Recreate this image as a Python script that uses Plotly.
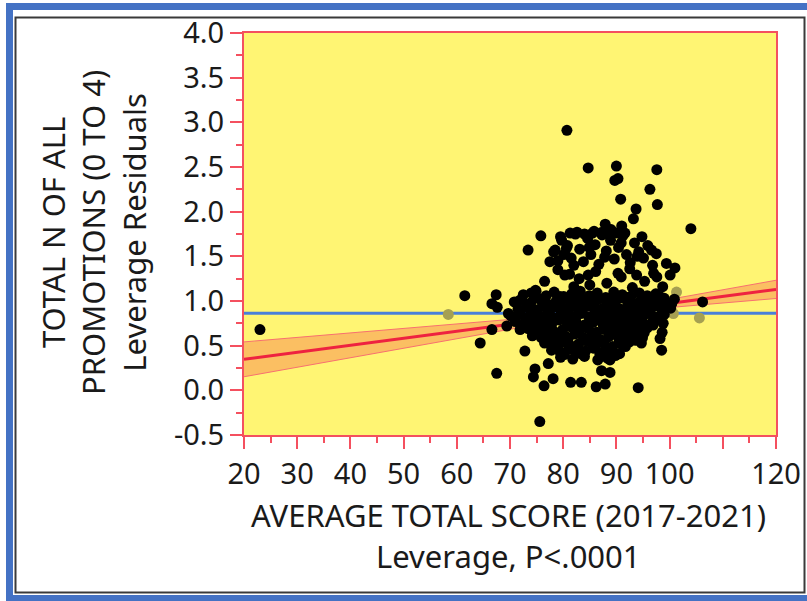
import plotly.graph_objects as go

# ---------------- data ----------------
x_tick_vals = [20, 30, 40, 50, 60, 70, 80, 90, 100, 110, 120]
x_tick_text = ["20", "30", "40", "50", "60", "70", "80", "90", "100", "", "120"]
x_minor_vals = [25, 35, 45, 55, 65, 75, 85, 95, 105, 115]
y_tick_vals = [-0.5, 0.0, 0.5, 1.0, 1.5, 2.0, 2.5, 3.0, 3.5, 4.0]
y_tick_text = ["-0.5", "0.0", "0.5", "1.0", "1.5", "2.0", "2.5", "3.0", "3.5", "4.0"]
y_minor_vals = [-0.25, 0.25, 0.75, 1.25, 1.75, 2.25, 2.75, 3.25, 3.75]

mean_x = [20, 120]
mean_y = [0.862, 0.862]

fit_x = [20, 120]
fit_y = [0.347, 1.130]

band_x = [20, 40, 60, 70, 80, 86, 92, 100, 110, 120]
band_upper = [0.542, 0.641, 0.739, 0.790, 0.844, 0.884, 0.938, 1.019, 1.126, 1.232]
band_lower = [0.152, 0.367, 0.581, 0.688, 0.790, 0.844, 0.884, 0.927, 0.978, 1.028]

sparse_pts = [
    (23.0, 0.68), (61.5, 1.06), (64.4, 0.53), (66.6, 0.97), (67.4, 1.07), (67.6, 0.93),
    (66.6, 0.68), (67.5, 0.19), (69.7, 0.86), (69.4, 0.72), (71.9, 0.68), (71.9, 1.01),
    (73.2, 0.96), (74.8, 1.12),
    (80.7, 2.91), (84.7, 2.49), (90.0, 2.51), (90.3, 2.37), (89.7, 2.35), (97.6, 2.47),
    (96.3, 2.25), (90.8, 2.14), (97.7, 2.08), (93.7, 2.03), (93.2, 1.92), (87.9, 1.86),
    (91.0, 1.84), (104.0, 1.81),
    (81.3, 1.76), (82.6, 1.77), (84.0, 1.75), (85.5, 1.76), (87.3, 1.77), (89.0, 1.75),
    (90.2, 1.76), (91.6, 1.76),
    (75.8, 1.73), (73.4, 1.57), (79.7, 1.68), (78.5, 1.57), (77.5, 1.44), (80.6, 1.59),
    (80.3, 1.29),
    (75.6, -0.35), (94.1, 0.03), (86.2, 0.04), (87.9, 0.07), (81.4, 0.09), (83.4, 0.09),
    (78.1, 0.13), (76.4, 0.05), (74.4, 0.15), (74.7, 0.24), (77.2, 0.30), (88.8, 0.34),
    (87.2, 0.22), (88.8, 0.20), (72.8, 0.44), (98.5, 0.45), (98.2, 0.58), (94.7, 0.53),
    (106.2, 0.99), (100.4, 0.97), (98.8, 0.75), (98.6, 0.65), (100.1, 1.29), (101.0, 1.37),
    (99.4, 1.42), (98.7, 1.16), (97.6, 1.27), (84.7, 1.29), (90.3, 1.31), (93.8, 1.29),
    (82.0, 1.16), (74.9, 1.11), (100.9, 1.02),
]

upper_pts = [
    (78.2, 1.55), (79.5, 1.72), (80.8, 1.62), (81.5, 1.48), (82.3, 1.75), (83.1, 1.58),
    (83.8, 1.44), (84.6, 1.70), (85.2, 1.52), (86.0, 1.63), (86.7, 1.41), (87.3, 1.74),
    (88.1, 1.56), (88.9, 1.68), (89.6, 1.47), (90.4, 1.60), (91.2, 1.73), (91.9, 1.52),
    (92.6, 1.43), (93.4, 1.65), (94.2, 1.55), (95.1, 1.48), (95.9, 1.62), (96.8, 1.40),
    (97.5, 1.53), (82.0, 1.40), (85.8, 1.78), (89.0, 1.80), (79.0, 1.45), (94.8, 1.72),
    (76.5, 1.22), (79.0, 1.35), (81.2, 1.30), (83.0, 1.25), (86.1, 1.33), (88.2, 1.20),
    (90.9, 1.27), (92.5, 1.36), (95.3, 1.22), (97.0, 1.31), (85.0, 1.18), (93.0, 1.15),
    (80.1, 1.52), (84.9, 1.60), (87.8, 1.49), (90.9, 1.65), (93.9, 1.50), (96.6, 1.57),
]

core_pts = [
    (72.5, 1.07), (74.0, 1.09), (76.8, 1.06), (78.3, 1.10), (80.1, 1.05), (81.6, 1.08),
    (83.2, 1.11), (84.9, 1.06), (86.4, 1.09), (88.0, 1.04), (89.5, 1.10), (91.1, 1.07),
    (92.7, 1.05), (94.3, 1.09), (95.8, 1.06), (97.4, 1.08), (99.0, 1.03),
    (75.0, 1.04), (79.4, 1.05), (82.5, 1.03), (85.7, 1.05), (88.8, 1.02), (92.0, 1.04),
    (95.0, 1.03), (98.2, 1.05),
    (70.8, 0.99), (72.2, 1.01), (73.9, 0.98), (75.6, 1.02), (77.0, 0.97), (78.7, 1.00),
    (80.3, 1.03), (81.9, 0.98), (83.5, 1.01), (85.0, 0.99), (86.6, 1.02), (88.2, 0.97),
    (89.9, 1.00), (91.4, 1.03), (93.0, 0.98), (94.6, 1.01), (96.2, 0.99), (97.8, 1.02),
    (99.3, 0.96),
    (76.1, 0.95), (79.5, 0.96), (82.7, 0.95), (85.8, 0.96), (89.0, 0.94), (92.2, 0.96),
    (95.4, 0.95), (98.5, 0.97),
    (71.5, 0.91), (73.1, 0.93), (74.8, 0.90), (76.3, 0.94), (77.9, 0.92), (79.6, 0.89),
    (81.1, 0.93), (82.8, 0.91), (84.4, 0.94), (85.9, 0.90), (87.5, 0.92), (89.1, 0.95),
    (90.7, 0.91), (92.2, 0.89), (93.8, 0.93), (95.4, 0.91), (97.0, 0.94), (98.6, 0.90),
    (100.2, 0.92),
    (74.0, 0.88), (77.1, 0.87), (80.4, 0.88), (83.6, 0.87), (86.7, 0.89), (89.9, 0.88),
    (93.1, 0.87), (96.3, 0.88),
    (70.2, 0.83), (72.0, 0.85), (73.6, 0.82), (75.2, 0.86), (76.9, 0.84), (78.5, 0.81),
    (80.0, 0.85), (81.7, 0.83), (83.3, 0.86), (84.8, 0.82), (86.4, 0.84), (88.0, 0.87),
    (89.6, 0.83), (91.1, 0.85), (92.7, 0.81), (94.3, 0.84), (95.9, 0.86), (97.5, 0.82),
    (99.0, 0.85),
    (75.9, 0.80), (79.0, 0.79), (82.1, 0.81), (85.2, 0.80), (88.4, 0.79), (91.6, 0.81),
    (94.8, 0.80), (97.9, 0.79),
    (71.0, 0.77), (72.7, 0.75), (74.3, 0.78), (76.0, 0.74), (77.6, 0.76), (79.2, 0.79),
    (80.8, 0.75), (82.4, 0.77), (84.0, 0.73), (85.6, 0.76), (87.2, 0.78), (88.8, 0.74),
    (90.4, 0.77), (92.0, 0.75), (93.5, 0.78), (95.1, 0.74), (96.7, 0.76),
    (74.6, 0.72), (77.8, 0.73), (81.0, 0.72), (84.3, 0.71), (87.5, 0.73), (90.7, 0.72),
    (93.9, 0.71), (96.9, 0.73),
    (73.4, 0.69), (75.0, 0.67), (76.6, 0.70), (78.2, 0.66), (79.9, 0.68), (81.5, 0.71),
    (83.1, 0.67), (84.7, 0.69), (86.3, 0.65), (87.8, 0.68), (89.4, 0.70), (91.0, 0.66),
    (92.6, 0.69), (94.1, 0.67), (95.8, 0.70),
    (76.0, 0.64), (79.3, 0.63), (82.6, 0.65), (85.9, 0.64), (89.1, 0.63), (92.3, 0.65),
    (95.2, 0.64),
    (74.2, 0.61), (75.9, 0.59), (77.4, 0.62), (79.0, 0.58), (80.6, 0.60), (82.2, 0.63),
    (83.8, 0.59), (85.4, 0.61), (87.0, 0.57), (88.6, 0.60), (90.2, 0.62), (91.7, 0.58),
    (93.3, 0.61), (94.9, 0.59),
    (77.6, 0.56), (80.9, 0.57), (84.1, 0.56), (87.3, 0.55), (90.5, 0.57), (93.6, 0.56),
    (76.5, 0.53), (78.1, 0.51), (79.7, 0.54), (81.3, 0.50), (82.9, 0.52), (84.5, 0.55),
    (86.1, 0.51), (87.7, 0.53), (89.3, 0.49), (90.8, 0.52), (92.4, 0.54),
    (79.0, 0.48), (82.3, 0.49), (85.6, 0.48), (88.7, 0.47), (91.7, 0.49),
    (77.8, 0.45), (79.4, 0.43), (81.0, 0.46), (82.6, 0.42), (84.2, 0.44), (85.8, 0.47),
    (87.4, 0.43), (89.0, 0.45), (90.6, 0.41),
    (80.2, 0.40), (83.3, 0.41), (86.9, 0.40), (89.8, 0.39),
    (79.5, 0.37), (81.8, 0.35), (84.0, 0.38), (86.5, 0.34), (88.3, 0.36),
]

excluded_pts = [(58.4, 0.85), (74.8, 0.99), (100.7, 0.86), (101.3, 1.10), (105.6, 0.81)]

# ---------------- styling ----------------
RED = "#f4505f"
YELLOW = "#fff573"
BLUE_LINE = "#4a7fd8"
FIT_RED = "#ee2240"
BAND_FILL = "#fbbf62"
BAND_EDGE = "#f77070"
TEXT = "#1a1a1a"
FONT = "Noto Sans"

fig = go.Figure()

# confidence band
fig.add_trace(go.Scatter(x=band_x, y=band_upper, mode="lines",
                         line=dict(color=BAND_EDGE, width=1), hoverinfo="skip"))
fig.add_trace(go.Scatter(x=band_x, y=band_lower, mode="lines", fill="tonexty",
                         fillcolor=BAND_FILL, line=dict(color=BAND_EDGE, width=1),
                         hoverinfo="skip"))
# mean line
fig.add_trace(go.Scatter(x=mean_x, y=mean_y, mode="lines",
                         line=dict(color=BLUE_LINE, width=3)))
# fit line
fig.add_trace(go.Scatter(x=fit_x, y=fit_y, mode="lines",
                         line=dict(color=FIT_RED, width=3)))

# excluded (faded) points
fig.add_trace(go.Scatter(x=[p[0] for p in excluded_pts], y=[p[1] for p in excluded_pts],
                         mode="markers", marker=dict(color="#a6a052", size=11, line=dict(width=0))))

all_pts = sparse_pts + upper_pts + core_pts
fig.add_trace(go.Scatter(x=[p[0] for p in all_pts], y=[p[1] for p in all_pts],
                         mode="markers", marker=dict(color="black", size=11, line=dict(width=0))))

TICK_FONT = dict(family=FONT, size=29, color=TEXT)
TITLE_FONT = dict(family=FONT, size=31, color=TEXT)

fig.update_xaxes(
    range=[20, 120], tickmode="array", tickvals=x_tick_vals, ticktext=x_tick_text,
    ticks="outside", ticklen=12, tickwidth=2, tickcolor=RED,
    minor=dict(tickvals=x_minor_vals, ticks="outside", ticklen=6, tickwidth=2,
               tickcolor=RED, showgrid=False),
    showline=True, linecolor=RED, linewidth=2, mirror=True, automargin=False,
    showgrid=False, zeroline=False, tickfont=TICK_FONT,
)
fig.update_yaxes(
    range=[-0.5, 4.0], tickmode="array", tickvals=y_tick_vals, ticktext=y_tick_text,
    ticks="outside", ticklen=12, tickwidth=2, tickcolor=RED,
    minor=dict(tickvals=y_minor_vals, ticks="outside", ticklen=6, tickwidth=2,
               tickcolor=RED, showgrid=False),
    showline=True, linecolor=RED, linewidth=2, mirror=True, automargin=False,
    showgrid=False, zeroline=False, tickfont=TICK_FONT,
)

# frame borders (paper coordinates, plot area 244..776 x 33..435 px)
def px_x(p):
    return (p - 244) / 532.0

def px_y(p):
    return (435 - p) / 402.0

shapes = [
    dict(type="rect", xref="paper", yref="paper",
         x0=px_x(9.5), x1=px_x(814), y0=px_y(598.5), y1=px_y(6.5),
         line=dict(color="#4472c4", width=7), layer="above"),
    dict(type="rect", xref="paper", yref="paper",
         x0=px_x(15.5), x1=px_x(804.5), y0=px_y(592.5), y1=px_y(17.5),
         line=dict(color="#3a3a3a", width=2), layer="above"),
]

annotations = [
    dict(xref="paper", yref="paper", x=px_x(94), y=px_y(233),
         text="TOTAL N OF ALL<br>PROMOTIONS (0 TO 4)<br>Leverage Residuals",
         textangle=-90, showarrow=False, xanchor="center", yanchor="middle",
         font=TITLE_FONT, align="center"),
    dict(xref="paper", yref="paper", x=px_x(508), y=px_y(515),
         text="AVERAGE TOTAL SCORE (2017-2021)", showarrow=False,
         xanchor="center", yanchor="middle", font=TITLE_FONT),
    dict(xref="paper", yref="paper", x=px_x(508), y=px_y(556),
         text="Leverage, P&lt;.0001", showarrow=False,
         xanchor="center", yanchor="middle", font=TITLE_FONT),
]

fig.update_layout(
    width=807, height=601,
    margin=dict(l=244, r=31, t=33, b=166),
    paper_bgcolor="white", plot_bgcolor=YELLOW,
    showlegend=False,
    shapes=shapes, annotations=annotations,
)

fig.write_html("out.html", config={"displayModeBar": False},
               post_script="document.body.style.margin='0';")
